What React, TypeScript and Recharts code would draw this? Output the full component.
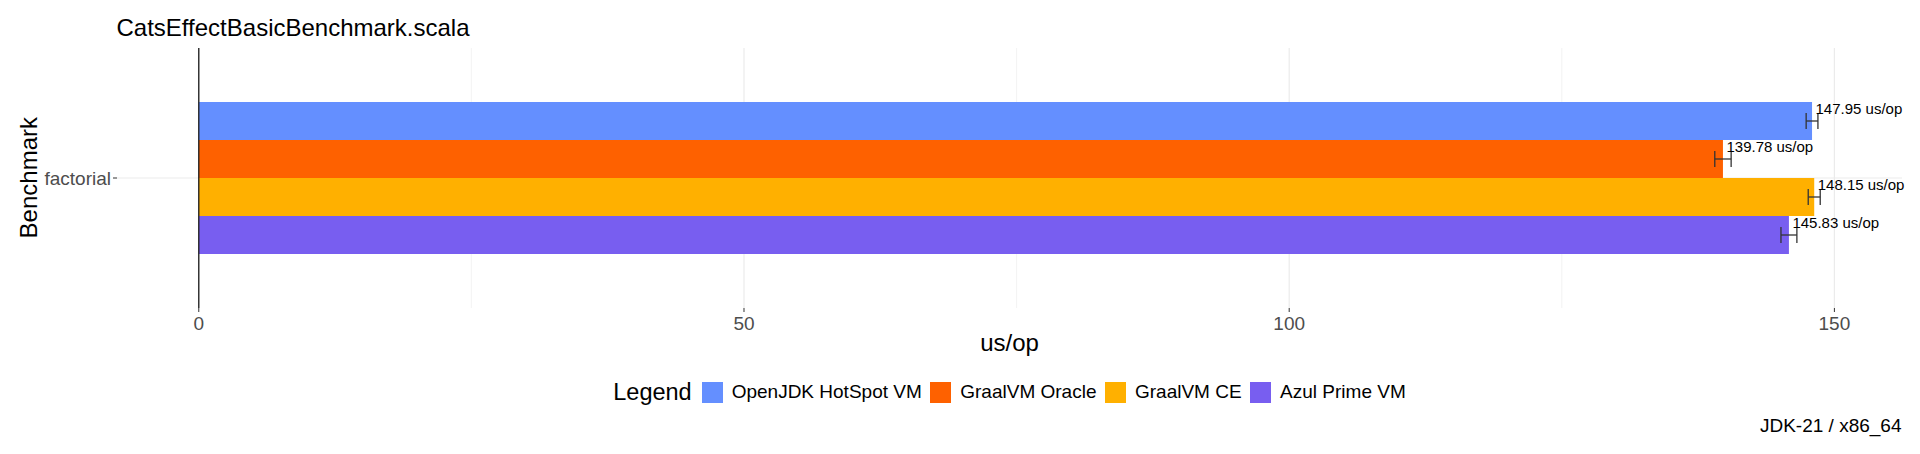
import { BarChart, Bar, XAxis, YAxis, CartesianGrid, ErrorBar, LabelList, ReferenceLine } from 'recharts';

const categories = ['factorial'];
const seriesNames = ['OpenJDK HotSpot VM', 'GraalVM Oracle', 'GraalVM CE', 'Azul Prime VM'];

// us/op per benchmark, plus error (half width of the error bar)
const hotspotScores = [147.95];
const hotspotErrors = [0.54];
const oracleScores = [139.78];
const oracleErrors = [0.75];
const ceScores = [148.15];
const ceErrors = [0.55];
const azulScores = [145.83];
const azulErrors = [0.73];

const xTicks = [0, 25, 50, 75, 100, 125, 150];
const xTickLabels = [0, 50, 100, 150];

const FONT = '"Liberation Sans", Arial, Helvetica, sans-serif';

const series = [
  { key: 'hotspot', name: seriesNames[0], color: '#648FFF' },
  { key: 'oracle', name: seriesNames[1], color: '#FE6100' },
  { key: 'ce', name: seriesNames[2], color: '#FFB000' },
  { key: 'azul', name: seriesNames[3], color: '#785EF0' },
];

const data = categories.map((name, i) => ({
  name,
  hotspot: hotspotScores[i],
  hotspotErr: hotspotErrors[i],
  oracle: oracleScores[i],
  oracleErr: oracleErrors[i],
  ce: ceScores[i],
  ceErr: ceErrors[i],
  azul: azulScores[i],
  azulErr: azulErrors[i],
}));

const XTick = (props: any) => {
  const { x, y, payload } = props;
  if (!xTickLabels.includes(payload.value)) return null;
  return (
    <g>
      <line x1={x} x2={x} y1={y - 9} y2={y - 5} stroke="#333" strokeWidth={1} />
      <text x={x} y={y} dy="0.71em" textAnchor="middle" fontSize={19} fill="#4D4D4D" fontFamily={FONT}>
        {payload.value}
      </text>
    </g>
  );
};

// major lines at even tick index, thinner minor lines between them
const gridLine = (props: any) => {
  const { x1, x2, y1, y2, index } = props;
  const major = index % 2 === 0;
  return (
    <line
      key={`v-${index}`}
      x1={x1}
      x2={x2}
      y1={y1}
      y2={y2}
      stroke="#EBEBEB"
      strokeWidth={major ? 1.2 : 0.6}
    />
  );
};

const valueLabel = (props: any) => {
  const vb = props.viewBox || props;
  const x = Number(vb.x) + Number(vb.width);
  const y = Number(vb.y) + Number(vb.height) / 2;
  return (
    <text x={x + 3.5} y={y - 7} fontSize={15} fill="#000" fontFamily={FONT}>
      {`${Number(props.value).toFixed(2)} us/op`}
    </text>
  );
};

export default function App() {
  return (
    <div style={{ position: 'absolute', left: 0, top: 0, width: 1920, height: 454, background: '#fff', fontFamily: FONT }}>
      <BarChart
        width={1920}
        height={454}
        data={data}
        layout="vertical"
        margin={{ top: 48, right: 18, bottom: 106, left: 0 }}
        barCategoryGap={54}
        barGap={0}
      >
        <CartesianGrid stroke="#EBEBEB" strokeWidth={1.2} vertical={gridLine} syncWithTicks />
        <XAxis
          type="number"
          domain={[-7.5, 156.2]}
          ticks={xTicks}
          interval={0}
          allowDataOverflow
          height={40}
          axisLine={false}
          tickLine={false}
          tickSize={4}
          tickMargin={5}
          tick={<XTick />}
        />
        <YAxis
          type="category"
          dataKey="name"
          width={117}
          axisLine={false}
          tickSize={4}
          tickMargin={2}
          tickLine={{ stroke: '#333' }}
          tick={{ fill: '#4D4D4D', fontSize: 19, fontFamily: FONT }}
        />
        {series.map((s) => (
          <Bar key={s.key} dataKey={s.key} name={s.name} fill={s.color} isAnimationActive={false}>
            <ErrorBar dataKey={`${s.key}Err`} direction="x" width={8} stroke="#333" strokeWidth={1.3} />
            <LabelList dataKey={s.key} content={valueLabel} />
          </Bar>
        ))}
        <ReferenceLine x={0} stroke="#1a1a1a" strokeWidth={1.3} />
      </BarChart>

      <svg width={1920} height={454} style={{ position: 'absolute', left: 0, top: 0, pointerEvents: 'none' }} fontFamily={FONT}>
        <text x={116.5} y={36} fontSize={24} fill="#000">CatsEffectBasicBenchmark.scala</text>
        <text transform="rotate(-90)" x={-177.7} y={36.5} textAnchor="middle" fontSize={24} fill="#000">Benchmark</text>
        <text x={1009.5} y={351} textAnchor="middle" fontSize={24} fill="#000">us/op</text>
        <text x={1901.5} y={432} textAnchor="end" fontSize={19} fill="#000">JDK-21 / x86_64</text>
      </svg>

      <div
        style={{
          position: 'absolute',
          left: 117,
          top: 380,
          width: 1785,
          height: 24,
          display: 'flex',
          justifyContent: 'center',
          alignItems: 'center',
          color: '#000',
        }}
      >
        <span style={{ fontSize: 23.5, lineHeight: '24px', marginRight: 10 }}>Legend</span>
        {series.map((s, i) => (
          <span key={s.key} style={{ display: 'flex', alignItems: 'center' }}>
            <span style={{ width: 21, height: 21, background: s.color, marginRight: 9, display: 'inline-block' }} />
            <span style={{ fontSize: 19, lineHeight: '24px', marginRight: i < series.length - 1 ? 8.5 : 0 }}>{s.name}</span>
          </span>
        ))}
      </div>
    </div>
  );
}
